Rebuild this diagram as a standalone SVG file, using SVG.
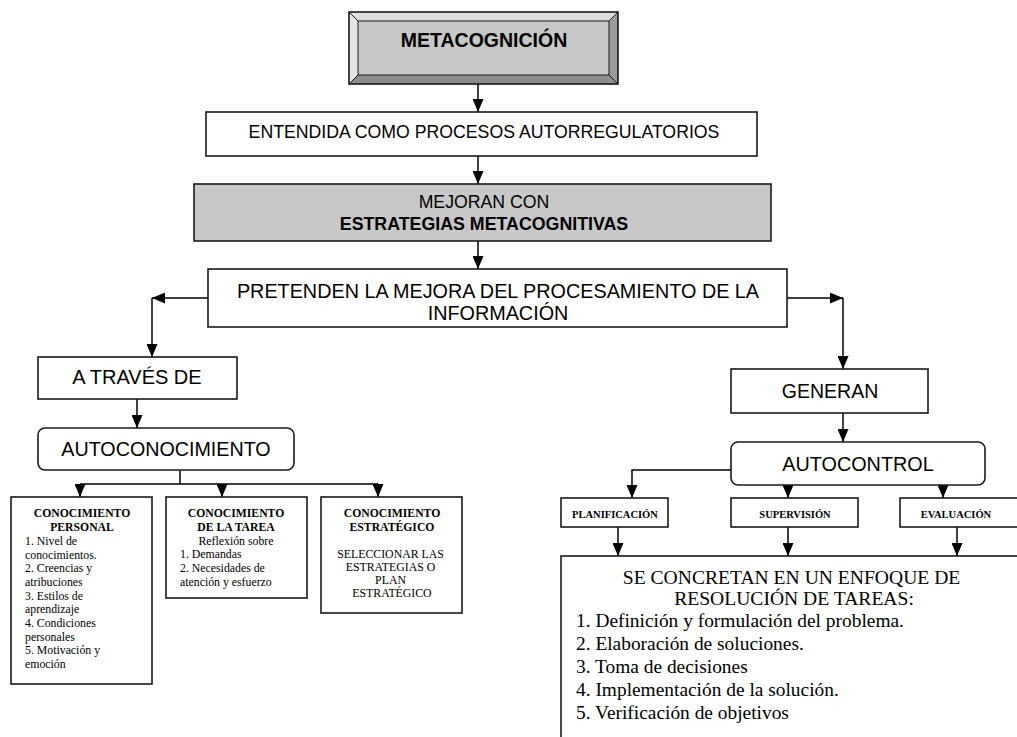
<svg xmlns="http://www.w3.org/2000/svg" width="1017" height="737" viewBox="0 0 1017 737">
  <defs>
    <marker id="arrow" markerWidth="13" markerHeight="11" refX="13" refY="5.5" orient="auto" markerUnits="userSpaceOnUse">
      <path d="M0,0 L13,5.5 L0,11 z" fill="#000"/>
    </marker>
    <style>
      .box { fill: #fff; stroke: #1a1a1a; stroke-width: 1.6; }
      .grey { fill: #c8c8c8; stroke: #1a1a1a; stroke-width: 1.6; }
      .sans { font-family: "Liberation Sans", Arial, sans-serif; fill: #000; }
      .serif { font-family: "Liberation Serif", "Times New Roman", serif; fill: #000; }
      .mid { text-anchor: middle; }
      .b { font-weight: bold; }
      .con { fill: none; stroke: #000; stroke-width: 1.5; }
      .arr { marker-end: url(#arrow); }
    </style>
  </defs>
  <rect width="1017" height="737" fill="#fff"/>

  <!-- connectors -->
  <g id="connectors">
    <path class="con arr" d="M478,84 V112"/>
    <path class="con arr" d="M478,156 V184"/>
    <path class="con arr" d="M478,241 V269"/>
    <path class="con arr" d="M208,298 H152"/>
    <path class="con arr" d="M152,298 V357"/>
    <path class="con arr" d="M787,298 H843"/>
    <path class="con arr" d="M843,298 V369"/>
    <path class="con arr" d="M137,399 V428"/>
    <path class="con arr" d="M843,413 V442"/>
    <path class="con" d="M180,470 V484 M80,484 H378"/>
    <path class="con arr" d="M80,484 V497"/>
    <path class="con arr" d="M222,484 V497"/>
    <path class="con arr" d="M378,484 V497"/>
    <path class="con arr" d="M731,470 H632 V498"/>
    <path class="con arr" d="M788,485 V498"/>
    <path class="con arr" d="M943,485 V498"/>
    <path class="con arr" d="M618,527 V556"/>
    <path class="con arr" d="M788,527 V556"/>
    <path class="con arr" d="M957,527 V556"/>
  </g>

  <!-- bevelled title -->
  <g id="metacognicion">
    <rect x="349" y="12" width="269" height="72" fill="#c8c8c8"/>
    <polygon points="349,12 618,12 609,21 358,21" fill="#dedede"/>
    <polygon points="349,12 358,21 358,75 349,84" fill="#e6e6e6"/>
    <polygon points="618,12 618,84 609,75 609,21" fill="#9a9a9a"/>
    <polygon points="349,84 618,84 609,75 358,75" fill="#8c8c8c"/>
    <rect x="358" y="21" width="251" height="54" fill="#c8c8c8" stroke="#1a1a1a" stroke-width="1"/>
    <path d="M349,12 L358,21 M618,12 L609,21 M349,84 L358,75 M618,84 L609,75" stroke="#1a1a1a" stroke-width="1" fill="none"/>
    <rect x="349" y="12" width="269" height="72" fill="none" stroke="#1a1a1a" stroke-width="1.6"/>
    <text class="sans b mid" x="484" y="47" font-size="19.5">METACOGNICIÓN</text>
  </g>

  <g id="entendida">
    <rect class="box" x="206" y="112" width="551" height="44"/>
    <text class="sans mid" x="484" y="138" font-size="17.7">ENTENDIDA COMO PROCESOS AUTORREGULATORIOS</text>
  </g>

  <g id="mejoran">
    <rect class="grey" x="194" y="184" width="577" height="57"/>
    <text class="sans mid" x="484" y="208" font-size="17.7">MEJORAN CON</text>
    <text class="sans b mid" x="484" y="230" font-size="17.8">ESTRATEGIAS METACOGNITIVAS</text>
  </g>

  <g id="pretenden">
    <rect class="box" x="208" y="269" width="579" height="58"/>
    <text class="sans mid" x="498" y="298" font-size="19.8">PRETENDEN LA MEJORA DEL PROCESAMIENTO DE LA</text>
    <text class="sans mid" x="498" y="320" font-size="19.8">INFORMACIÓN</text>
  </g>

  <g id="a-traves-de">
    <rect class="box" x="38" y="357" width="199" height="42"/>
    <text class="sans mid" x="137" y="384" font-size="20">A TRAVÉS DE</text>
  </g>

  <g id="autoconocimiento">
    <rect class="box" x="38" y="428" width="256" height="42" rx="7"/>
    <text class="sans mid" x="166" y="456" font-size="19.7">AUTOCONOCIMIENTO</text>
  </g>

  <g id="conocimiento-personal">
    <rect class="box" x="11" y="497" width="141" height="187"/>
    <text class="serif b mid" font-size="11.7"><tspan x="82" y="517">CONOCIMIENTO</tspan><tspan x="82" y="531">PERSONAL</tspan></text>
    <text class="serif" font-size="11.8">
      <tspan x="25" y="545">1. Nivel de</tspan>
      <tspan x="25" y="559">conocimientos.</tspan>
      <tspan x="25" y="572">2. Creencias y</tspan>
      <tspan x="25" y="586">atribuciones</tspan>
      <tspan x="25" y="600">3. Estilos de</tspan>
      <tspan x="25" y="613">aprendizaje</tspan>
      <tspan x="25" y="627">4. Condiciones</tspan>
      <tspan x="25" y="641">personales</tspan>
      <tspan x="25" y="654">5. Motivación y</tspan>
      <tspan x="25" y="668">emoción</tspan>
    </text>
  </g>

  <g id="conocimiento-tarea">
    <rect class="box" x="166" y="497" width="141" height="101"/>
    <text class="serif b mid" font-size="11.7"><tspan x="236" y="517">CONOCIMIENTO</tspan><tspan x="236" y="531">DE LA TAREA</tspan></text>
    <text class="serif mid" x="236" y="545" font-size="11.8">Reflexión sobre</text>
    <text class="serif" font-size="11.8">
      <tspan x="180" y="558">1. Demandas</tspan>
      <tspan x="180" y="572">2. Necesidades de</tspan>
      <tspan x="180" y="586">atención y esfuerzo</tspan>
    </text>
  </g>

  <g id="conocimiento-estrategico">
    <rect class="box" x="321" y="497" width="141" height="116"/>
    <text class="serif b mid" font-size="11.7"><tspan x="392" y="517">CONOCIMIENTO</tspan><tspan x="392" y="531">ESTRATÉGICO</tspan></text>
    <text class="serif mid" font-size="11.8">
      <tspan x="392" y="558">SELECCIONAR LAS</tspan>
      <tspan x="392" y="571">ESTRATEGIAS O</tspan>
      <tspan x="392" y="584">PLAN</tspan>
      <tspan x="392" y="597">ESTRATÉGICO</tspan>
    </text>
  </g>

  <g id="generan">
    <rect class="box" x="731" y="369" width="197" height="44"/>
    <text class="sans mid" x="830" y="398" font-size="19.5">GENERAN</text>
  </g>

  <g id="autocontrol">
    <rect class="box" x="731" y="442" width="254" height="43" rx="7"/>
    <text class="sans mid" x="858" y="471" font-size="19.8">AUTOCONTROL</text>
  </g>

  <g id="planificacion">
    <rect class="box" x="561" y="498" width="107" height="29"/>
    <text class="serif b mid" x="615" y="518" font-size="10.5">PLANIFICACIÓN</text>
  </g>

  <g id="supervision">
    <rect class="box" x="731" y="498" width="127" height="29"/>
    <text class="serif b mid" x="795" y="518" font-size="10.5">SUPERVISIÓN</text>
  </g>

  <g id="evaluacion">
    <rect class="box" x="900" y="498" width="130" height="29"/>
    <text class="serif b mid" x="956" y="518" font-size="10.5">EVALUACIÓN</text>
  </g>

  <g id="resolucion-tareas">
    <rect class="box" x="561" y="556" width="480" height="200"/>
    <text class="serif mid" font-size="19.6">
      <tspan x="794" y="584">SE CONCRETAN EN UN ENFOQUE DE</tspan>
      <tspan x="794" y="605">RESOLUCIÓN DE TAREAS:</tspan>
    </text>
    <text class="serif" font-size="19.4">
      <tspan x="576" y="627">1. Definición y formulación del problema.</tspan>
      <tspan x="576" y="650">2. Elaboración de soluciones.</tspan>
      <tspan x="576" y="673">3. Toma de decisiones</tspan>
      <tspan x="576" y="696">4. Implementación de la solución.</tspan>
      <tspan x="576" y="719">5. Verificación de objetivos</tspan>
    </text>
  </g>
</svg>
